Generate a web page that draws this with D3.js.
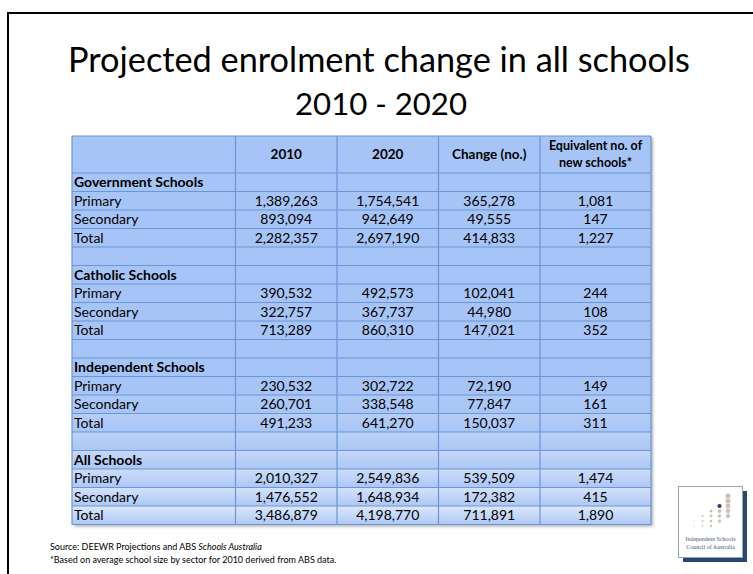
<!DOCTYPE html>
<html>
<head>
<meta charset="utf-8">
<script src="https://cdn.jsdelivr.net/npm/d3@7"></script>
<style>
  html, body { margin: 0; padding: 0; background: #fff; }
  svg { display: block; }
</style>
</head>
<body>
<svg id="chart" width="753" height="574"></svg>
<script>
// ---------- DATA ----------
const title1 = "Projected enrolment change in all schools";
const title2 = "2010 - 2020";
const headers = ["", "2010", "2020", "Change (no.)", ["Equivalent no. of", "new schools*"]];
const sections = ["Government Schools", "Catholic Schools", "Independent Schools", "All Schools"];
const subRows = ["Primary", "Secondary", "Total"];
const values2010 = [[1389263, 893094, 2282357], [390532, 322757, 713289], [230532, 260701, 491233], [2010327, 1476552, 3486879]];
const values2020 = [[1754541, 942649, 2697190], [492573, 367737, 860310], [302722, 338548, 641270], [2549836, 1648934, 4198770]];
const changeNo   = [[365278, 49555, 414833], [102041, 44980, 147021], [72190, 77847, 150037], [539509, 172382, 711891]];
const newSchools = [[1081, 147, 1227], [244, 108, 352], [149, 161, 311], [1474, 415, 1890]];
const sourceText = "Source: DEEWR Projections and ABS ";
const sourceItalic = "Schools Australia";
const noteText = "*Based on average school size by sector for 2010 derived from ABS data.";
const logoLines = ["Independent Schools", "Council of Australia"];

// ---------- BUILD ROWS ----------
const rows = [];
sections.forEach((s, si) => {
  rows.push({ label: s, kind: "section", vals: [null, null, null, null] });
  subRows.forEach((r, ri) => {
    rows.push({ label: r, kind: "data", vals: [values2010[si][ri], values2020[si][ri], changeNo[si][ri], newSchools[si][ri]] });
  });
  if (si < sections.length - 1) rows.push({ label: "", kind: "blank", vals: [null, null, null, null] });
});

const svg = d3.select("#chart");
const font = "Lato, 'Open Sans', sans-serif";
const fmt = d3.format(",");

// slide frame
svg.append("rect").attr("x", 8).attr("y", 13).attr("width", 800).attr("height", 700)
  .attr("fill", "none").attr("stroke", "#000").attr("stroke-width", 2);

// title
const t1 = svg.append("text").attr("x", 379).attr("y", 72).attr("text-anchor", "middle")
  .attr("font-family", font).attr("font-size", 30).attr("fill", "#000").text(title1);
const w1 = t1.node().getComputedTextLength();
const fs = 30 * 622 / w1;
t1.attr("font-size", fs);
const t2 = svg.append("text").attr("x", 381).attr("y", 115).attr("text-anchor", "middle")
  .attr("font-family", font).attr("font-size", fs).attr("fill", "#000").text(title2);
const w2 = t2.node().getComputedTextLength();
t2.attr("font-size", Math.min(fs, fs * 172 / w2));

// ---------- TABLE ----------
const colEdges = [72, 235.5, 337, 438.5, 540, 651];
const headerTop = 136, headerBottom = 173, tableBottom = 524.5;
const yRow = d3.scaleBand().domain(d3.range(rows.length)).range([headerBottom, tableBottom]);
const xCol = d3.scaleOrdinal().domain(d3.range(5)).range(colEdges.slice(0, 5));
const colW = i => colEdges[i + 1] - colEdges[i];

const base = "#a6c4f5";
const light = "#e2ebfb";
const border = "#6a96d8";

const defs = svg.append("defs");
const filt = defs.append("filter").attr("id", "shadow").attr("x", "-5%").attr("y", "-5%").attr("width", "110%").attr("height", "110%");
filt.append("feDropShadow").attr("dx", 2).attr("dy", 2).attr("stdDeviation", 1.5).attr("flood-color", "#000").attr("flood-opacity", 0.3);

// shadow under table
svg.append("rect").attr("x", colEdges[0]).attr("y", headerTop)
  .attr("width", colEdges[5] - colEdges[0]).attr("height", tableBottom - headerTop)
  .attr("fill", base).attr("filter", "url(#shadow)");

// header cells
const g = svg.append("g");
for (let c = 0; c < 5; c++) {
  g.append("rect").attr("x", xCol(c)).attr("y", headerTop).attr("width", colW(c))
    .attr("height", headerBottom - headerTop).attr("fill", base);
}

// row gradients
rows.forEach((r, i) => {
  const t = Math.max(0, (i - 11) / 7);
  const topCol = d3.interpolateRgb(base, light)(t * 0.9);
  const gr = defs.append("linearGradient").attr("id", "rg" + i).attr("x1", 0).attr("y1", 0).attr("x2", 0).attr("y2", 1);
  gr.append("stop").attr("offset", "0%").attr("stop-color", topCol);
  gr.append("stop").attr("offset", "100%").attr("stop-color", d3.interpolateRgb(base, "#b3ccf5")(t * 0.6));
  for (let c = 0; c < 5; c++) {
    g.append("rect").attr("x", xCol(c)).attr("y", yRow(i)).attr("width", colW(c))
      .attr("height", yRow.bandwidth()).attr("fill", "url(#rg" + i + ")");
  }
});

// grid lines
const lines = svg.append("g").attr("stroke", border).attr("stroke-width", 1.2);
colEdges.forEach(x => lines.append("line").attr("x1", x).attr("x2", x).attr("y1", headerTop).attr("y2", tableBottom));
[headerTop, ...rows.map((d, i) => yRow(i)), tableBottom].forEach(y =>
  lines.append("line").attr("x1", colEdges[0]).attr("x2", colEdges[5]).attr("y1", y).attr("y2", y));

// header text
const ht = svg.append("g").attr("font-family", font).attr("font-weight", "bold").attr("font-size", 13.5).attr("fill", "#000").attr("text-anchor", "middle");
headers.forEach((h, c) => {
  const cx = xCol(c) + colW(c) / 2;
  if (Array.isArray(h)) {
    ht.append("text").attr("x", cx).attr("y", 150).attr("font-size", 12.5).text(h[0]);
    ht.append("text").attr("x", cx).attr("y", 166.5).attr("font-size", 12.5).text(h[1]);
  } else if (h) {
    ht.append("text").attr("x", cx).attr("y", 159).text(h);
  }
});

// body text
const bt = svg.append("g").attr("font-family", font).attr("font-size", 14).attr("fill", "#000");
rows.forEach((r, i) => {
  const yb = yRow(i) + yRow.bandwidth() - 4.3;
  if (r.label) {
    bt.append("text").attr("x", colEdges[0] + 2).attr("y", yb)
      .attr("font-weight", r.kind === "section" ? "bold" : "normal").text(r.label);
  }
  r.vals.forEach((v, c) => {
    if (v == null) return;
    bt.append("text").attr("x", xCol(c + 1) + colW(c + 1) / 2).attr("y", yb)
      .attr("text-anchor", "middle").text(fmt(v));
  });
});

// footnotes
const fn = svg.append("text").attr("x", 50).attr("y", 550).attr("font-family", font).attr("font-size", 9).attr("fill", "#000");
fn.append("tspan").text(sourceText);
fn.append("tspan").attr("font-style", "italic").text(sourceItalic);
svg.append("text").attr("x", 50).attr("y", 563).attr("font-family", font).attr("font-size", 9).attr("fill", "#000").text(noteText);

// logo
const lg = svg.append("g");
lg.append("rect").attr("x", 683).attr("y", 491).attr("width", 64).attr("height", 71).attr("fill", "#27476f");
lg.append("rect").attr("x", 678.5).attr("y", 486.5).attr("width", 64).attr("height", 71).attr("fill", "#fff").attr("stroke", "#9aa4b4").attr("stroke-width", 1);
const dotRows = [[4], [4], [3, 4], [2, 3, 4], [1, 2, 3, 4], [0, 1, 2, 3], [0, 1, 2]];
dotRows.forEach((cols, ri) => {
  cols.forEach(ci => {
    const navy = (ri === 2 && ci === 3);
    const r = 0.5 + ci * 0.35 + (6 - ri) * 0.12;
    lg.append("circle").attr("cx", 694 + ci * 8.5).attr("cy", 496 + ri * 5)
      .attr("r", navy ? 2.1 : r).attr("fill", navy ? "#1f3f6e" : "#cbc1b4");
  });
});
logoLines.forEach((l, i) => {
  lg.append("text").attr("x", 710.5).attr("y", 541 + i * 7.5).attr("text-anchor", "middle")
    .attr("font-family", "'Liberation Serif', 'DejaVu Serif', serif").attr("font-size", 6).attr("fill", "#4a5a78").text(l);
});
</script>
</body>
</html>
